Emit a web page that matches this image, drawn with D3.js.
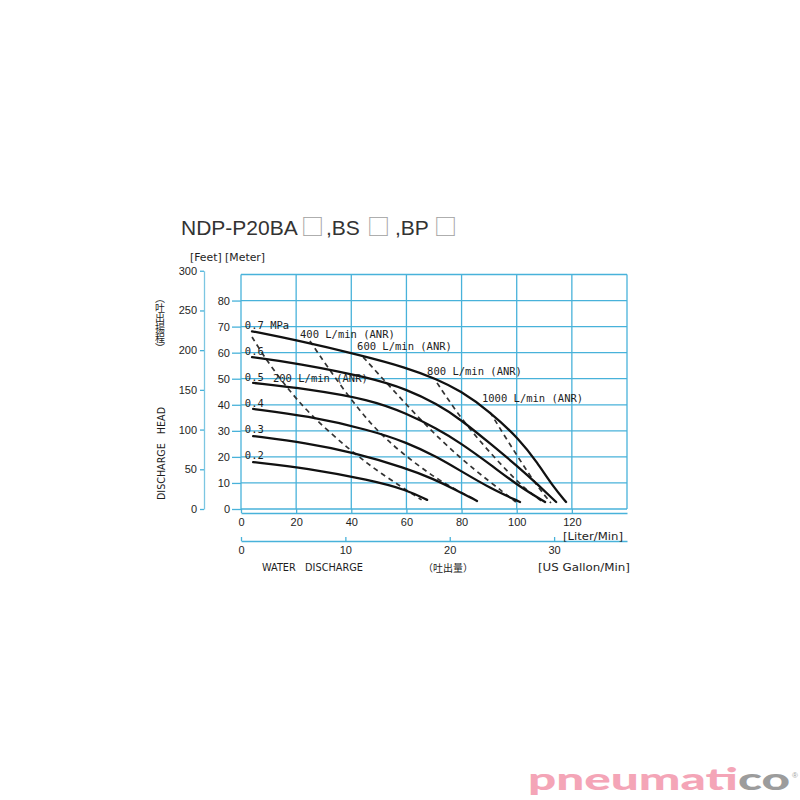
<!DOCTYPE html>
<html><head><meta charset="utf-8">
<script src="https://cdn.jsdelivr.net/npm/d3@7"></script>
<style>body{margin:0;background:#fff}</style>
</head><body>
<svg id="c" width="800" height="800"></svg>
<script>
// ---------- data ----------
const titleParts = ["NDP-P20BA", "□", ",BS", "□", ",BP", "□"];
const pressureLabels = ["0.7 MPa", "0.6", "0.5", "0.4", "0.3", "0.2"];
const pressureValues = [0.7, 0.6, 0.5, 0.4, 0.3, 0.2];
// pressure curves: [L/min, m]
const p07 = [[4.0,68.2],[19.6,64.9],[43.2,59.1],[60.2,54.2],[71.1,49.8],[79.4,45.5],[90.3,37.4],[101.2,26.5],[107.4,17.9],[113.2,8.6],[117.9,2.7]];
const p06 = [[4.0,58.3],[20.3,56.0],[46.8,50.4],[60.2,45.9],[71.1,40.3],[79.4,34.6],[90.3,25.2],[101.2,15.6],[107.4,9.6],[114.3,2.7]];
const p05 = [[4.4,48.4],[23.9,46.1],[46.8,42.0],[60.2,36.6],[71.1,30.8],[79.4,25.5],[90.3,17.2],[101.2,8.4],[110.3,2.7]];
const p04 = [[4.4,38.4],[23.9,35.8],[46.8,30.3],[60.2,25.5],[71.1,20.0],[79.4,14.8],[90.3,8.0],[101.2,2.7]];
const p03 = [[4.4,28.0],[23.9,25.3],[39.9,21.9],[60.2,15.6],[69.6,11.6],[78.0,7.3],[85.6,3.1]];
const p02 = [[4.4,18.0],[23.9,15.7],[46.8,11.1],[60.2,7.3],[67.5,3.5]];
const pressureCurves = [p07, p06, p05, p04, p03, p02];
// air consumption lines
const airLabels = ["200 L/min (ANR)", "400 L/min (ANR)", "600 L/min (ANR)", "800 L/min (ANR)", "1000 L/min (ANR)"];
const a200 = [[4.0,66.0],[8.0,59.1],[15.2,48.4],[25.0,36.1],[39.5,22.6],[50.4,13.8],[65.5,3.5]];
const a400 = [[25.0,64.5],[31.6,54.1],[39.5,42.6],[47.9,31.5],[57.7,21.9],[72.2,10.4],[85.2,3.5]];
const a600 = [[44.3,58.3],[55.1,45.7],[67.5,31.5],[79.4,19.6],[90.3,10.4],[99.7,2.7]];
const a800 = [[71.1,48.4],[79.4,35.3],[87.8,24.6],[96.1,15.0],[103.4,7.3],[109.5,2.7]];
const a1000 = [[90.3,37.2],[96.5,26.5],[102.3,16.9],[107.4,8.8],[112.4,2.3]];
const airCurves = [a200, a400, a600, a800, a1000];
// ticks
const flowTicks = [0,20,40,60,80,100,120];
const gallonTicks = [0,10,20,30];
const meterTicks = [0,10,20,30,40,50,60,70,80];
const feetTicks = [0,50,100,150,200,250,300];

// ---------- layout ----------
const svg = d3.select("#c");
const GRID = "#48b2da";
const INK = "#1e1e1e";
const x = d3.scaleLinear().domain([0,140]).range([241,627]);
const y = d3.scaleLinear().domain([0,90]).range([509,274.5]);
const yFt = d3.scaleLinear().domain([0,300]).range([y(0), y(300*0.3048)]);
const xGal = d3.scaleLinear().domain([0,140/3.78541]).range([241,627]);

// title
const t = svg.append("text").attr("y",235).attr("font-family","Liberation Sans, Arial, sans-serif")
  .attr("font-size",21).attr("fill","#333");
const titleX = [181, 301, 326, 367, 395, 434];
titleParts.forEach((s,i)=>{
  const ts = t.append("tspan").attr("x",titleX[i]).text(s);
  if (s === "□") ts.attr("font-family","Noto Sans CJK JP").attr("fill","#a0a0a0").attr("font-size",23);
});

// grid
const grid = svg.append("g").attr("stroke",GRID).attr("stroke-width",1.3).attr("fill","none");
grid.selectAll("line.v").data(d3.range(0,141,20)).join("line").attr("class","v")
  .attr("x1",d=>x(d)).attr("x2",d=>x(d)).attr("y1",y(0)).attr("y2",y(90));
grid.selectAll("line.h").data(d3.range(0,91,10)).join("line").attr("class","h")
  .attr("x1",x(0)).attr("x2",x(140)).attr("y1",d=>y(d)).attr("y2",d=>y(d));

function styleAxis(g){
  g.attr("font-family","Liberation Sans, Arial, sans-serif").attr("font-size",11).attr("color",GRID);
  g.selectAll("text").attr("fill",INK);
  g.selectAll("line").attr("stroke-width",1.3);
  g.selectAll("path").attr("stroke-width",1.3);
}
// meter axis
svg.append("g").attr("transform",`translate(${x(0)},0)`)
  .call(d3.axisLeft(y).tickValues(meterTicks).tickSize(9).tickPadding(2).tickSizeOuter(0))
  .call(g=>g.select(".domain").remove()).call(styleAxis);
// feet axis
svg.append("g").attr("transform","translate(204,0)")
  .call(d3.axisLeft(yFt).tickValues(feetTicks).tickSize(4).tickPadding(3).tickSizeOuter(0))
  .call(styleAxis).call(g=>g.select(".domain").attr("stroke","#7cc6e2"));
// liter axis
svg.append("g").attr("transform","translate(0,513)")
  .call(d3.axisBottom(x).tickValues(flowTicks).tickSize(-4).tickPadding(5).tickSizeOuter(0))
  .call(styleAxis);
// gallon axis
svg.append("g").attr("transform","translate(0,541)")
  .call(d3.axisBottom(xGal).tickValues(gallonTicks).tickSize(-4).tickPadding(5).tickSizeOuter(0))
  .call(styleAxis);

// axis titles
const mono = "DejaVu Sans Mono, monospace";
const cond = "DejaVu Sans Condensed, DejaVu Sans, sans-serif";
svg.append("text").attr("x",190).attr("y",261).attr("font-family",cond).attr("font-size",10.5)
  .attr("fill",INK).attr("textLength",75).attr("lengthAdjust","spacingAndGlyphs").text("[Feet] [Meter]");
svg.append("text").attr("transform","translate(165,500) rotate(-90)").attr("font-family",cond)
  .attr("font-size",10.5).attr("fill",INK).attr("textLength",93).attr("lengthAdjust","spacingAndGlyphs")
  .attr("xml:space","preserve").text("DISCHARGE   HEAD");
svg.append("text").attr("x",160).attr("y",293).style("writing-mode","vertical-rl")
  .attr("font-family","Noto Sans CJK JP").attr("font-size",10).attr("fill",INK).text("（吐出揚程）");
svg.append("text").attr("x",563).attr("y",540).attr("font-family",cond).attr("font-size",10.5)
  .attr("fill",INK).attr("textLength",60).attr("lengthAdjust","spacingAndGlyphs").text("[Liter/Min]");
svg.append("text").attr("x",538).attr("y",571).attr("font-family",cond).attr("font-size",10.5)
  .attr("fill",INK).attr("textLength",92).attr("lengthAdjust","spacingAndGlyphs").text("[US Gallon/Min]");
svg.append("text").attr("x",262).attr("y",571).attr("font-family",cond).attr("font-size",10.5)
  .attr("fill",INK).attr("textLength",101).attr("lengthAdjust","spacingAndGlyphs")
  .attr("xml:space","preserve").text("WATER   DISCHARGE");
svg.append("text").attr("x",423).attr("y",572).attr("font-family","Noto Sans CJK JP")
  .attr("font-size",10).attr("fill",INK).text("（吐出量）");

// curves
const line = d3.line().x(d=>x(d[0])).y(d=>y(d[1])).curve(d3.curveBasis);
svg.append("g").selectAll("path").data(airCurves).join("path")
  .attr("d",line).attr("fill","none").attr("stroke","#333").attr("stroke-width",1.7)
  .attr("stroke-dasharray","5,4");
svg.append("g").selectAll("path").data(pressureCurves).join("path")
  .attr("d",line).attr("fill","none").attr("stroke","#111").attr("stroke-width",2.3)
  .attr("stroke-linecap","round");

// pressure labels
svg.append("g").selectAll("text").data(pressureLabels).join("text")
  .attr("x",x(1.4)).attr("y",(d,i)=>y(pressureValues[i]*100)+2.5)
  .attr("font-family",mono).attr("font-size",10.5).attr("fill",INK).text(d=>d);
// air labels (anchor in data units)
const airLabelAt = [[11.6,48.7],[21.4,65.6],[42.1,61.0],[67.5,51.4],[87.4,41.1]];
svg.append("g").selectAll("text").data(airLabels).join("text")
  .attr("x",(d,i)=>x(airLabelAt[i][0])).attr("y",(d,i)=>y(airLabelAt[i][1]))
  .attr("font-family",mono).attr("font-size",10.5).attr("fill",INK)
  .attr("xml:space","preserve").text(d=>d);

// watermark
const wm = svg.append("text").attr("x",528).attr("y",790).attr("font-family","Lato, Liberation Sans, sans-serif")
  .attr("font-weight",900).attr("font-size",31).attr("textLength",262).attr("lengthAdjust","spacingAndGlyphs");
wm.append("tspan").attr("fill","#f4a5b7").text("pneumati");
wm.append("tspan").attr("fill","#9c9c9c").text("co");
svg.append("text").attr("x",792).attr("y",778).attr("font-family","Liberation Sans, sans-serif")
  .attr("font-size",8).attr("fill","#a3a3a3").text("®");
</script>
</body></html>
